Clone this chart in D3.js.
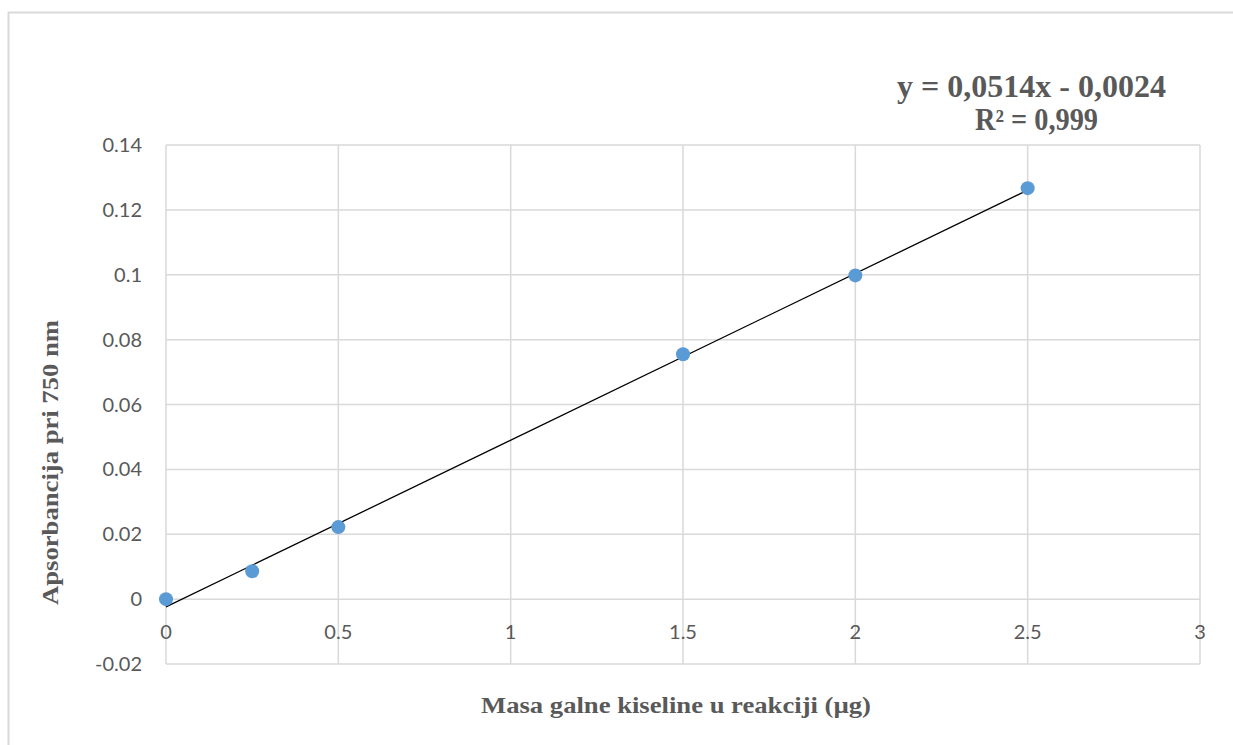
<!DOCTYPE html>
<html><head><meta charset="utf-8">
<script src="https://cdn.jsdelivr.net/npm/d3@7"></script>
<style>html,body{margin:0;padding:0;background:#fff;}</style>
</head><body>
<svg id="c" width="1233" height="745"></svg>
<script>
const massValues = [0, 0.25, 0.5, 1.5, 2, 2.5];
const absorbance = [0, 0.0086, 0.0222, 0.0755, 0.0998, 0.1267];
const xTicks = [0, 0.5, 1, 1.5, 2, 2.5, 3];
const yTicks = [-0.02, 0, 0.02, 0.04, 0.06, 0.08, 0.1, 0.12, 0.14];
const trendSlope = 0.0514;
const trendIntercept = -0.0024;
const equationLines = ["y = 0,0514x - 0,0024", "R² = 0,999"];
const xTitle = "Masa galne kiseline u reakciji (µg)";
const yTitle = "Apsorbancija pri 750 nm";

const svg = d3.select("#c");
const grey = "#595959", grid = "#d9d9d9";
const serif = "'Liberation Serif', 'Times New Roman', serif";
const sans = "Lato, 'Open Sans', sans-serif";
// outer border
svg.append("path").attr("d","M8.5,745 L8.5,12.5 L1233,12.5").attr("fill","none").attr("stroke",grid).attr("stroke-width",2);

const x = d3.scaleLinear().domain([0,3]).range([166,1200]);
const y = d3.scaleLinear().domain([-0.02,0.14]).range([664,145]);

// gridlines
svg.append("g").selectAll("line").data(yTicks).join("line")
  .attr("x1",x(0)).attr("x2",x(3)).attr("y1",d=>y(d)).attr("y2",d=>y(d))
  .attr("stroke",grid).attr("stroke-width",1.5);
svg.append("g").selectAll("line").data(xTicks).join("line")
  .attr("x1",d=>x(d)).attr("x2",d=>x(d)).attr("y1",y(-0.02)).attr("y2",y(0.14))
  .attr("stroke",grid).attr("stroke-width",1.5);

// y tick labels
svg.append("g").selectAll("text").data(yTicks).join("text")
  .attr("x",142).attr("y",d=>y(d)).attr("dy","0.35em").attr("text-anchor","end")
  .attr("font-family",sans).attr("font-size",20).attr("fill",grey)
  .text(d=>String(+d.toFixed(2)));
// x tick labels (axis crosses at y=0)
svg.append("g").selectAll("text").data(xTicks).join("text")
  .attr("x",d=>x(d)).attr("y",y(0)+33).attr("dy","0.35em").attr("text-anchor","middle")
  .attr("font-family",sans).attr("font-size",20).attr("fill",grey)
  .text(d=>String(d));

// trendline
const xExt = d3.extent(massValues);
svg.append("line")
  .attr("x1",x(xExt[0])).attr("y1",y(trendSlope*xExt[0]+trendIntercept))
  .attr("x2",x(xExt[1])).attr("y2",y(trendSlope*xExt[1]+trendIntercept))
  .attr("stroke","#000").attr("stroke-width",1.3);

// points
svg.append("g").selectAll("circle").data(massValues.map((m,i)=>[m,absorbance[i]])).join("circle")
  .attr("cx",d=>x(d[0])).attr("cy",d=>y(d[1])).attr("r",7).attr("fill","#5b9bd5");

// equation
svg.append("text").attr("x",897).attr("y",97)
  .attr("font-family",serif).attr("font-weight","bold").attr("font-size",31).attr("fill",grey)
  .attr("textLength",269).attr("lengthAdjust","spacingAndGlyphs").text(equationLines[0]);
svg.append("text").attr("x",975).attr("y",130)
  .attr("font-family",serif).attr("font-weight","bold").attr("font-size",31).attr("fill",grey)
  .attr("textLength",123).attr("lengthAdjust","spacingAndGlyphs").text(equationLines[1]);

// axis titles
svg.append("text").attr("x",481).attr("y",713)
  .attr("font-family",serif).attr("font-weight","bold").attr("font-size",24).attr("fill",grey)
  .attr("textLength",390).attr("lengthAdjust","spacingAndGlyphs")
  .text(xTitle);
svg.append("text").attr("transform","translate(58,605) rotate(-90)")
  .attr("font-family",serif).attr("font-weight","bold").attr("font-size",24).attr("fill",grey)
  .attr("textLength",285).attr("lengthAdjust","spacingAndGlyphs")
  .text(yTitle);
</script>
</body></html>
